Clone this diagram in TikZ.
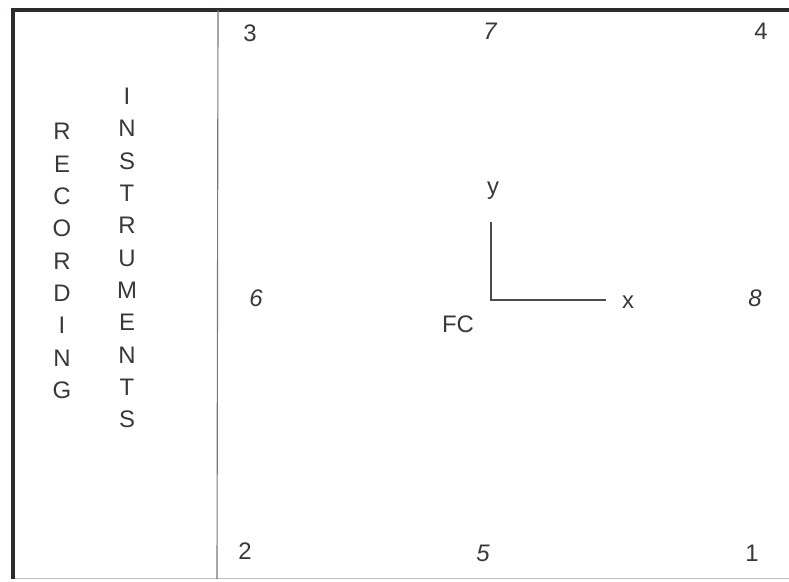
\documentclass[tikz,border=0pt]{standalone}
\usepackage{fontspec}
\setmainfont{Liberation Sans}
\usepackage{tikz}
\usetikzlibrary{positioning}
\definecolor{ink}{HTML}{383838}
\definecolor{frame}{HTML}{2E2A2C}
\definecolor{rule}{HTML}{777777}
\definecolor{faint}{HTML}{BDBDBD}
\tikzset{
  lbl/.style={text=ink, inner sep=0pt, font=\fontsize{17}{20}\selectfont},
  ilbl/.style={lbl, font=\fontsize{17}{20}\selectfont\itshape},
  column/.style={lbl, align=center, font=\fontsize{17}{23}\selectfont},
  border/.style={draw=frame, line width=2.2pt},
  divide/.style={draw=rule, line width=0.8pt},
  axis/.style={draw=ink!90, line width=0.8pt}
}
\begin{document}
\begin{tikzpicture}[x=0.025cm, y=-0.025cm]
  \useasboundingbox (0,0) rectangle (789,581);
  % frame
  \draw[draw=faint, line width=0.7pt] (13,578) -- (789,578);
  \draw[border] (789,10) -- (13,10) -- (13,579);
  \draw[divide] (218,10) -- (217,579);
  % instrument labels
  \node[column] (rec) at (62,261) {R\\E\\C\\O\\R\\D\\I\\N\\G};
  \node[column] (ins) at (127,258) {I\\N\\S\\T\\R\\U\\M\\E\\N\\T\\S};
  % corner and edge positions
  \node[lbl] (p3) at (250,33) {3};
  \node[ilbl] (p7) at (490,31) {7};
  \node[lbl] (p4) at (761,31) {4};
  \node[ilbl] (p6) at (256,298) {6};
  \node[ilbl] (p8) at (755,298) {8};
  \node[lbl] (p2) at (245,551) {2};
  \node[ilbl] (p5) at (483,553) {5};
  \node[lbl] (p1) at (752,553) {1};
  % axes at FC
  \coordinate (fc) at (491,300);
  \coordinate (yend) at (491,222);
  \coordinate (xend) at (606,300);
  \draw[axis] (yend) -- (fc) -- (xend);
  \node[lbl] (ylab) at (493,191) {y};
  \node[lbl] (xlab) at (628,302) {x};
  \node[lbl] (fclab) at (458,324) {FC};
\end{tikzpicture}
\end{document}
